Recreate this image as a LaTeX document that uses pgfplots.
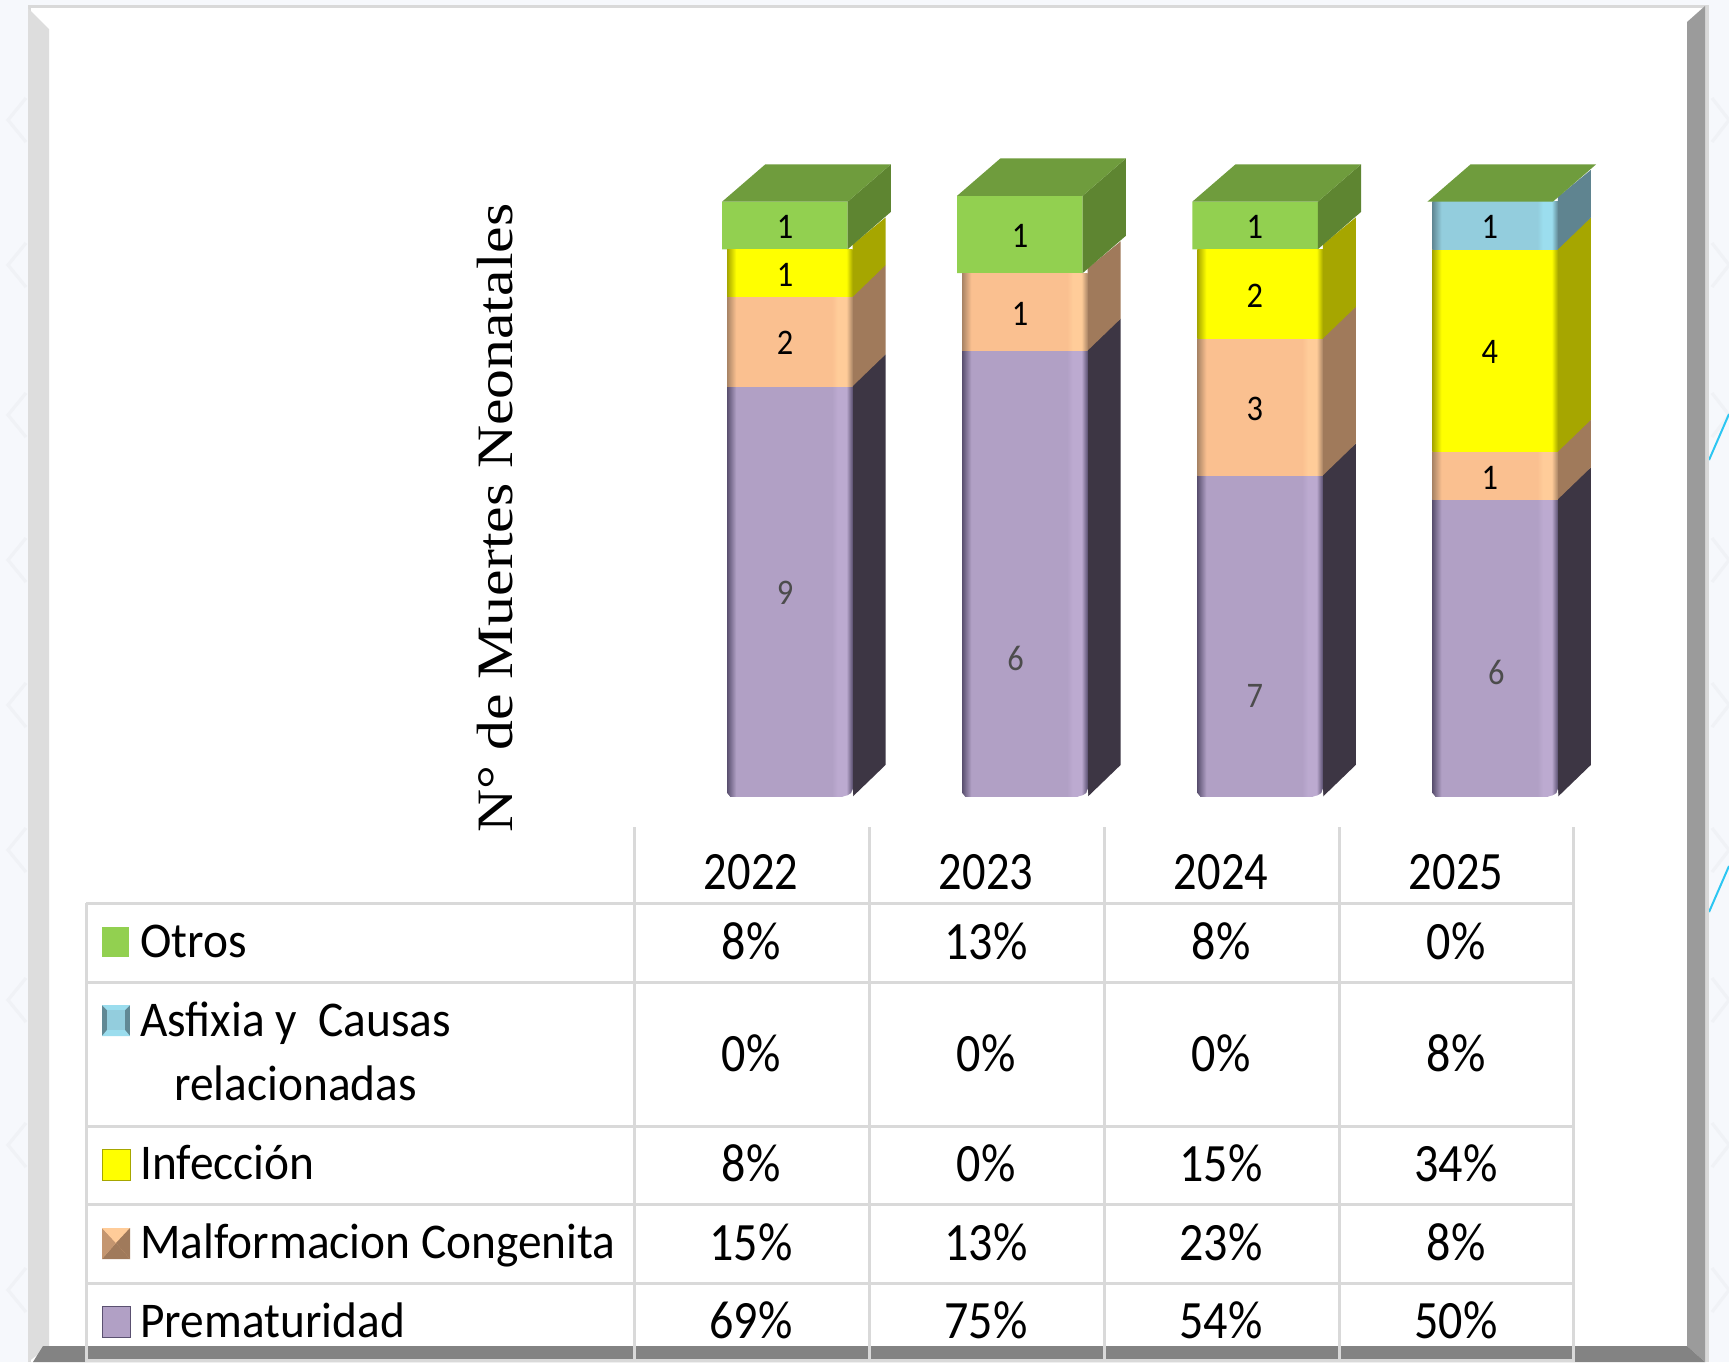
\documentclass[border=0pt]{standalone}
\usepackage{graphicx}
\usepackage{fontspec}
\setmainfont{Carlito}
\newfontfamily\serifa{Liberation Serif}
\usepackage{pgfplots}
\usepackage{pgfplotstable}
\pgfplotsset{compat=1.18}

\definecolor{fondo}{HTML}{F6F8FC}
\definecolor{chevron}{HTML}{F0F2F6}
\definecolor{linea}{HTML}{D9D9D9}
\definecolor{bisel}{HTML}{DDDDDD}
\definecolor{biseld}{HTML}{9B9B9B}
\definecolor{bisela}{HTML}{838383}
\definecolor{verde}{HTML}{92D050}
\definecolor{verdeT}{HTML}{6F9C3D}
\definecolor{verdeS}{HTML}{5E8531}
\definecolor{azul}{HTML}{93CDDD}
\definecolor{azulS}{HTML}{5F8490}
\definecolor{amar}{HTML}{FFFF00}
\definecolor{amarS}{HTML}{A6A600}
\definecolor{nara}{HTML}{FAC090}
\definecolor{naraS}{HTML}{A07A5B}
\definecolor{mora}{HTML}{B1A0C5}
\definecolor{moraS}{HTML}{3D3644}
\definecolor{celeste}{HTML}{2CC6F2}

% horizontal shadings of the front faces, 25bp and 75bp are the bar edges
\newcommand{\frente}[4]{\pgfdeclarehorizontalshading{#1}{100bp}{color(0bp)=(#2); color(25bp)=(#2); color(28.6bp)=(#3); color(66.8bp)=(#3); color(69bp)=(#4); color(72.5bp)=(#4); color(75bp)=(#2); color(100bp)=(#2)}}
\definecolor{moraE}{HTML}{5A5070}
\definecolor{moraL}{HTML}{BCAAD0}
\definecolor{naraE}{HTML}{A98465}
\definecolor{naraL}{HTML}{FFCC99}
\definecolor{azulE}{HTML}{618894}
\definecolor{azulL}{HTML}{9BDDEE}
\frente{frMora}{moraE}{mora}{moraL}
\frente{frNara}{naraE}{nara}{naraL}
\frente{frAmar}{amarS}{amar}{amar}
\frente{frAzul}{azulE}{azul}{azulL}

% percent of deaths per cause and year
\pgfplotstableread{
x prem malf inf asf otros
0 69 15 8 0 8
1 75 13 0 0 13
2 54 23 15 0 8
3 50 8 34 8 0
}\datos

% counts written on the bars
\pgfplotstableread{
x y n
-0.02 95.7 1
-0.02 87.7 1
-0.02 76.3 2
0.979 94.2 1
0.979 81.1 1
1.978 95.7 1
1.978 84.2 2
1.978 65.1 3
2.977 95.7 1
2.977 74.8 4
2.977 53.6 1
}\cuentas
\pgfplotstableread{
x y n
-0.02 34.2 9
0.960 23.3 6
1.978 17.0 7
3.005 20.9 6
}\cuentasg

\newcommand{\tnum}[1]{\fontsize{27}{27}\selectfont\scalebox{.89}[1]{#1}}
\newcommand{\tanio}[1]{\fontsize{27}{27}\selectfont\scalebox{.86}[1]{#1}}
\newcommand{\tleg}[1]{\fontsize{25}{25}\selectfont\scalebox{.947}[1]{#1}}

% side and shaded front of one segment: year, from, to, side colour, shading
\newcommand{\segmento}[5]{%
  \pgfmathsetmacro\xa{#1+0.2669}\pgfmathsetmacro\xb{#1+0.4073}%
  \pgfmathsetmacro\xl{#1-0.2669}%
  \pgfmathsetmacro\ya{#2+5.35}\pgfmathsetmacro\yb{#3+5.35}\pgfmathsetmacro\yc{#3+0.8}%
  \addplot[fill=#4,draw=none] coordinates {(\xa,#2) (\xb,\ya) (\xb,\yb) (\xa,\yc)} -- cycle;
  \addplot[shading=#5,draw=none] coordinates {(\xl,#2) (\xa,#2) (\xa,#3) (\xl,#3)} -- cycle;
}
% top face of a column, and the side of the green block when it has one
\newcommand{\tapa}[3]{%
  \pgfmathsetmacro\xl{#1-0.2883}\pgfmathsetmacro\xr{#1+0.2455}%
  \pgfmathsetmacro\xL{#1-0.1041}\pgfmathsetmacro\xR{#1+0.4297}%
  \pgfmathsetmacro\yt{#3+6.29}\pgfmathsetmacro\ys{#2+6.29}%
  \ifdim #2pt<#3pt
    \addplot[fill=verdeS,draw=none] coordinates {(\xr,#2) (\xR,\ys) (\xR,\yt) (\xr,#3)} -- cycle;
  \fi
  \addplot[fill=verdeT,draw=none] coordinates {(\xl,#3) (\xr,#3) (\xR,\yt) (\xL,\yt)} -- cycle;
}
% white masks for the rounded foot of a column
\newcommand{\pie}[1]{%
  \pgfmathsetmacro\xa{#1+0.2669}\pgfmathsetmacro\xl{#1-0.2669}%
  \pgfmathsetmacro\xb{#1+0.2249}\pgfmathsetmacro\xc{#1+0.2469}\pgfmathsetmacro\xd{#1+0.2609}%
  \pgfmathsetmacro\xe{#1-0.2549}\pgfmathsetmacro\xf{#1+0.2700}\pgfmathsetmacro\xg{#1-0.2700}%
  \addplot[fill=white,draw=none] coordinates {(\xb,0) (\xc,0.25) (\xd,0.6) (\xa,1.3) (\xf,-0.3) (\xb,-0.3)} -- cycle;
  \addplot[fill=white,draw=none] coordinates {(\xe,0) (\xl,0.6) (\xg,0.6) (\xg,-0.3) (\xe,-0.3)} -- cycle;
}

\pgfplotsset{eje/.style={
  at={(336.15pt,-398.35pt)}, anchor=south west,
  scale only axis, width=470.2pt, height=327.25pt,
  xmin=-0.5, xmax=3.5, ymin=0, ymax=110,
  hide axis, clip=false}}

\begin{document}
\begin{tikzpicture}[x=0.5pt,y=-0.5pt]
\path[use as bounding box] (0,0) rectangle (1729,1362);
\fill[fondo] (0,0) rectangle (1729,1362);
% faint background pattern
\foreach \yy in {120,265,415,560,705,850,1000,1145,1290}{
  \draw[chevron,line width=1.6pt] (26,\yy-22) -- (8,\yy) -- (26,\yy+22);
  \draw[chevron,line width=1.6pt] (1712,\yy-22) -- (1729,\yy) (1712,\yy+22) -- (1729,\yy);
}
\draw[celeste,line width=1pt] (1709,460) -- (1729,414);
\draw[celeste,line width=1pt] (1709,912) -- (1729,866);
% frame
\fill[linea] (28,5) rectangle (1709,1362);
\fill[white] (31,8) rectangle (1705,1362);
\fill[bisel] (28,8) -- (49,29) -- (49,1346) -- (28,1362) -- cycle;
\fill[biseld] (1705,6) -- (1687,22) -- (1687,1346) -- (1705,1362) -- cycle;
\fill[bisela] (43,1346) -- (1687,1346) -- (1705,1362) -- (33,1362) -- cycle;
% table lines
\begin{scope}[linea,line width=1.5pt]
\foreach \xx in {634,869,1104,1339,1573}{\draw (\xx,827) -- (\xx,1362);}
\draw (86,903) -- (86,1362);
\foreach \yy in {903,982,1126,1204,1283}{\draw (86,\yy) -- (1574,\yy);}
\draw (86,1360.5) -- (1574,1360.5);
\end{scope}
% flat stacked bars
\begin{axis}[eje, ybar stacked, bar width=62.75pt]
\addplot[fill=mora,draw=none] table[x=x,y=prem] {\datos};
\addplot[fill=nara,draw=none] table[x=x,y=malf] {\datos};
\addplot[fill=amar,draw=none] table[x=x,y=inf] {\datos};
\addplot[fill=azul,draw=none] table[x=x,y=asf] {\datos};
\addplot[fill=verde,draw=none,bar shift=-2.5pt] table[x=x,y=otros] {\datos};
\end{axis}
% sides, top faces and shaded fronts
\begin{axis}[eje]
\segmento{0}{0}{69}{moraS}{frMora}
\segmento{0}{69}{84}{naraS}{frNara}
\segmento{0}{84}{92}{amarS}{frAmar}
\tapa{0}{92}{100}
\segmento{1}{0}{75}{moraS}{frMora}
\segmento{1}{75}{88}{naraS}{frNara}
\tapa{1}{88}{101}
\segmento{2}{0}{54}{moraS}{frMora}
\segmento{2}{54}{77}{naraS}{frNara}
\segmento{2}{77}{92}{amarS}{frAmar}
\tapa{2}{92}{100}
\segmento{3}{0}{50}{moraS}{frMora}
\segmento{3}{50}{58}{naraS}{frNara}
\segmento{3}{58}{92}{amarS}{frAmar}
\segmento{3}{92}{100}{azulS}{frAzul}
\tapa{3}{100}{100}
\pie{0}\pie{1}\pie{2}\pie{3}
\addplot[only marks,mark=none,point meta=explicit symbolic,
  nodes near coords,nodes near coords align=center,
  every node near coord/.append style={text=black,inner sep=0pt,font=\fontsize{18}{18}\selectfont,xscale=.9}]
  table[x=x,y=y,meta=n] {\cuentas};
\addplot[only marks,mark=none,point meta=explicit symbolic,
  nodes near coords,nodes near coords align=center,
  every node near coord/.append style={text=black!70,inner sep=0pt,font=\fontsize{18}{18}\selectfont,xscale=.9}]
  table[x=x,y=y,meta=n] {\cuentasg};
\end{axis}
% y title
\node[rotate=90,inner sep=0pt] at (495,518) {\serifa\fontsize{25.5}{25.5}\selectfont\scalebox{1.17}[1]{N° de Muertes Neonatales}};
% table header and body
\foreach \xx/\yr in {751/2022,986/2023,1221/2024,1456/2025}{\node[anchor=base,inner sep=0pt] at (\xx,889) {\tanio{\yr}};}
\foreach \xx/\a/\b/\c/\d/\e in {751/8/0/8/15/69,986/13/0/0/13/75,1221/8/0/15/23/54,1456/0/8/34/8/50}{
  \node[anchor=base,inner sep=0pt] at (\xx,959) {\tnum{\a\%}};
  \node[anchor=base,inner sep=0pt] at (\xx,1071) {\tnum{\b\%}};
  \node[anchor=base,inner sep=0pt] at (\xx,1181) {\tnum{\c\%}};
  \node[anchor=base,inner sep=0pt] at (\xx,1260) {\tnum{\d\%}};
  \node[anchor=base,inner sep=0pt] at (\xx,1338) {\tnum{\e\%}};
}
\node[anchor=base west,inner sep=0pt] at (140,957) {\tleg{Otros}};
\node[anchor=base west,inner sep=0pt] at (140,1036) {\tleg{Asf{}ixia y\ \ Causas}};
\node[anchor=base west,inner sep=0pt] at (174,1100.5) {\tleg{relacionadas}};
\node[anchor=base west,inner sep=0pt] at (140,1179) {\tleg{Infección}};
\node[anchor=base west,inner sep=0pt] at (140,1258) {\tleg{Malformacion Congenita}};
\node[anchor=base west,inner sep=0pt] at (140,1337) {\tleg{Prematuridad}};
% legend keys
\fill[verde] (102,927) rectangle (129,957);
\fill[azulE] (102,1005) rectangle (130,1036);
\fill[azulL] (102,1036) -- (107,1030) -- (125,1030) -- (130,1036) -- cycle;
\fill[azulL] (102,1005) -- (107,1010) -- (125,1010) -- (130,1005) -- cycle;
\fill[azul] (107,1010) rectangle (125,1030);
\fill[amar,draw=amarS,line width=.4pt] (102,1149) rectangle (130,1180);
\fill[nara] (102,1228) rectangle (130,1259);
\fill[naraS] (102,1259) -- (116,1243) -- (130,1259) -- cycle;
\fill[naraS!60!nara] (102,1228) -- (116,1243) -- (102,1259) -- cycle;
\fill[naraL] (102,1228) -- (116,1243) -- (130,1228) -- cycle;
\fill[naraS] (130,1228) -- (116,1243) -- (130,1259) -- cycle;
\fill[mora,draw=moraE,line width=.4pt] (102,1306) rectangle (130,1337);
\end{tikzpicture}
\end{document}
